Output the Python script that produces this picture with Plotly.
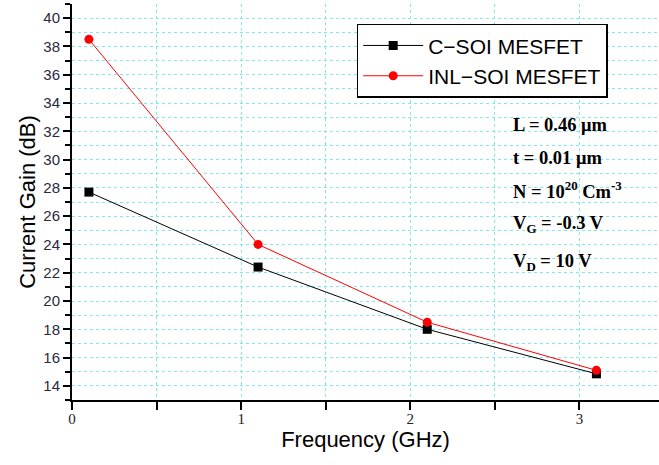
import plotly.graph_objects as go

# Frequency sweep (GHz) and simulated current gain (dB)
freq_ghz = [0.1, 1.1, 2.1, 3.1]
gain_c_soi = [27.7, 22.4, 18.0, 14.85]
gain_inl_soi = [38.5, 24.0, 18.5, 15.1]

series_names = ["C\u2212SOI MESFET", "INL\u2212SOI MESFET"]

device_params = [
    "L = 0.46 \u03bcm",
    "t = 0.01 \u03bcm",
    "N = 10<sup>20</sup> Cm<sup>-3</sup>",
    "V<sub>G</sub> = -0.3 V",
    "V<sub>D</sub> = 10 V",
]
param_y = [0.694, 0.611, 0.530, 0.442, 0.348]

grid_style = dict(showgrid=True, gridcolor="#7fe8f0", griddash="dot", gridwidth=1)

fig = go.Figure()
fig.add_trace(go.Scatter(
    x=freq_ghz, y=gain_c_soi, name=series_names[0], mode="lines+markers",
    line=dict(color="black", width=1),
    marker=dict(symbol="square", size=9, color="black"),
))
fig.add_trace(go.Scatter(
    x=freq_ghz, y=gain_inl_soi, name=series_names[1], mode="lines+markers",
    line=dict(color="red", width=1),
    marker=dict(symbol="circle", size=9, color="red"),
))

for txt, yy in zip(device_params, param_y):
    fig.add_annotation(
        x=0.748, y=yy, xref="paper", yref="paper",
        xanchor="left", yanchor="middle", showarrow=False, text=txt,
        font=dict(family="Liberation Serif", size=18.5, color="black", weight="bold"),
    )

fig.update_layout(
    width=659, height=465,
    margin=dict(l=72, r=0, t=4, b=65),
    paper_bgcolor="white", plot_bgcolor="white",
    showlegend=True,
    legend=dict(
        x=0.485, y=0.95, xanchor="left", yanchor="top",
        bgcolor="white", bordercolor="black", borderwidth=1.5,
        font=dict(family="Liberation Sans", size=21, color="black"),
        itemwidth=60, tracegroupgap=0,
    ),
    xaxis=dict(
        range=[0, 3.47], tickvals=[0, 1, 2, 3],
        ticks="outside", ticklen=8, tickwidth=1.5, tickcolor="black",
        showline=True, linecolor="black", linewidth=2,
        zeroline=False, ticklabelstandoff=-4,
        minor=dict(dtick=0.5, ticks="outside", ticklen=8, tickcolor="black",
                   showgrid=True, gridcolor="#7fe8f0", griddash="dot"),
        tickfont=dict(family="Liberation Serif", size=15, color="#222"),
        title=dict(text="Frequency (GHz)", standoff=4,
                   font=dict(family="Liberation Sans", size=22, color="black")),
        **grid_style,
    ),
    yaxis=dict(
        range=[13, 41], dtick=2, tick0=0,
        ticks="outside", ticklen=7, tickwidth=1.5, tickcolor="black",
        showline=True, linecolor="black", linewidth=2,
        zeroline=False,
        minor=dict(dtick=1, ticks="outside", ticklen=5, tickcolor="black",
                   showgrid=True, gridcolor="#7fe8f0", griddash="dot"),
        tickfont=dict(family="Liberation Sans", size=15, color="#2a2a40"),
        title=dict(text="Current Gain (dB)", standoff=2,
                   font=dict(family="Liberation Sans", size=22, color="black")),
        **grid_style,
    ),
)

fig.write_html("out.html")
